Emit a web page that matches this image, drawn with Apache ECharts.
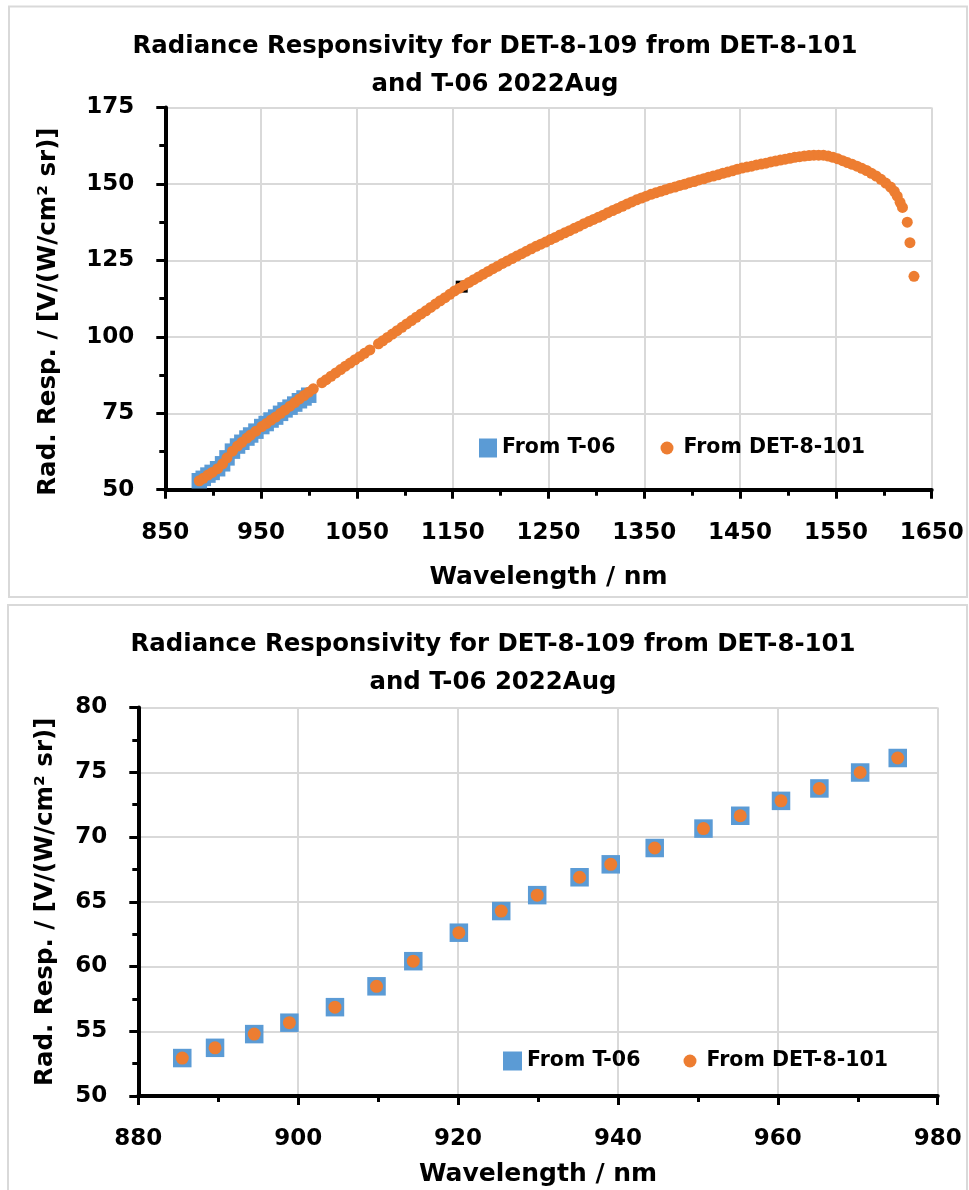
<!DOCTYPE html>
<html>
<head>
<meta charset="utf-8">
<script src="https://cdn.jsdelivr.net/npm/echarts@6/dist/echarts.min.js"></script>
<style>
html,body{margin:0;padding:0;background:#ffffff;}
#chart{width:969px;height:1190px;}
</style>
</head>
<body>
<div id="chart"></div>
<script>
// ---------- text ----------
const titleLine1 = 'Radiance Responsivity for DET-8-109 from DET-8-101';
const titleLine2 = 'and T-06 2022Aug';
const xAxisName = 'Wavelength / nm';
const yAxisName = 'Rad. Resp. / [V/(W/cm\u00B2 sr)]';
const seriesNames = ['From T-06', 'From DET-8-101'];

// ---------- axis ranges [min, max, interval] ----------
const topXRange = [850, 1650, 100];
const topYRange = [50, 175, 25];
const zoomXRange = [880, 980, 20];
const zoomYRange = [50, 80, 5];

// ---------- data ----------
const t06Wavelength = [885.5, 889.6, 894.5, 898.9, 904.6, 909.8, 914.4, 920.1, 925.4, 929.9,
  935.2, 939.1, 944.6, 950.7, 955.3, 960.4, 965.2, 970.3, 975.0,
  980.2, 985.1, 990.0, 994.8, 999.7];
const t06Resp = [52.93, 53.72, 54.78, 55.66, 56.86, 58.47, 60.41, 62.61, 64.28, 65.51,
  66.89, 67.89, 69.15, 70.65, 71.64, 72.79, 73.75, 74.98, 76.10,
  77.0, 78.0, 79.1, 80.0, 80.9];

const detWavelength = [885.5, 889.6, 894.5, 898.9, 904.6, 909.8, 914.4, 920.1, 925.4, 929.9,
  935.2, 939.1, 944.6, 950.7, 955.3, 960.4, 965.2, 970.3, 975.0,
  980.2, 985.1, 990.0, 994.8, 999.7,
  1004.5, 1013.5,
  1018, 1023, 1028, 1033, 1038, 1043, 1048, 1053, 1058,
  1063.5, 1072.5,
  1077, 1082, 1087, 1092, 1097, 1102, 1107, 1112, 1117, 1122, 1127, 1132, 1137, 1142, 1147,
  1152, 1157, 1162, 1167, 1172, 1177, 1182, 1187, 1192, 1197,
  1202, 1207, 1212, 1217, 1222, 1227, 1232, 1237, 1242, 1247,
  1252, 1257, 1262, 1267, 1272, 1277, 1282, 1287, 1292, 1297,
  1302, 1307, 1312, 1317, 1322, 1327, 1332, 1337, 1342, 1347,
  1352, 1357, 1362, 1367, 1372, 1377, 1382, 1387, 1392, 1397,
  1402, 1407, 1412, 1417, 1422, 1427, 1432, 1437, 1442, 1447,
  1452, 1457, 1462, 1467, 1472, 1477, 1482, 1487, 1492, 1497,
  1502, 1507, 1512, 1517, 1522, 1527, 1532, 1537, 1542, 1547,
  1552, 1557, 1562, 1567, 1572, 1577, 1582, 1587, 1592, 1597,
  1602, 1607,
  1611, 1614, 1617, 1619.5, 1624.5, 1627.3, 1631.5];
const detResp = [52.93, 53.72, 54.78, 55.66, 56.86, 58.47, 60.41, 62.61, 64.28, 65.51,
  66.89, 67.89, 69.15, 70.65, 71.64, 72.79, 73.75, 74.98, 76.10,
  77.3, 78.5, 79.7, 80.8, 81.9,
  83.0, 85.0,
  86.0, 87.1, 88.2, 89.3, 90.4, 91.4, 92.5, 93.5, 94.6,
  95.7, 97.7,
  98.7, 99.8, 100.9, 102.0, 103.1, 104.2, 105.3, 106.4, 107.5, 108.5, 109.6, 110.7, 111.8, 112.8, 113.9,
  115.0, 115.9, 116.9, 117.8, 118.7, 119.6, 120.5, 121.4, 122.3, 123.1,
  124.0, 124.8, 125.6, 126.4, 127.2, 128.0, 128.8, 129.6, 130.3, 131.0,
  131.8, 132.5, 133.3, 134.0, 134.7, 135.5, 136.2, 137.0, 137.7, 138.4,
  139.1, 139.8, 140.6, 141.3, 142.0, 142.7, 143.4, 144.1, 144.8, 145.4,
  146.0, 146.6, 147.1, 147.6, 148.1, 148.6, 149.0, 149.5, 149.9, 150.4,
  150.8, 151.3, 151.7, 152.2, 152.6, 153.0, 153.5, 153.9, 154.3, 154.8,
  155.2, 155.5, 155.8, 156.2, 156.5, 156.8, 157.2, 157.5, 157.8, 158.1,
  158.4, 158.7, 158.9, 159.1, 159.3, 159.4, 159.4, 159.4, 159.1, 158.7,
  158.2, 157.6, 157.0, 156.4, 155.8, 155.1, 154.4, 153.5, 152.6, 151.5,
  150.3, 149.0,
  147.6, 146.0, 144.0, 142.3, 137.5, 130.8, 119.8];

// stray dark marker visible behind the orange curve
const markWavelength = [1159.4];
const markResp = [116.4];

// ---------- build ----------
const FONT = 'DejaVu Sans';
const BLUE = '#5b9bd5';
const ORANGE = '#ed7d31';
const zip = (xs, ys) => xs.map((x, i) => [x, ys[i]]);
const plain = v => String(v);

function xAxisCfg(gridIndex, r, nameGap) {
  return {
    type: 'value', gridIndex: gridIndex, min: r[0], max: r[1], interval: r[2],
    name: xAxisName, nameLocation: 'middle', nameGap: nameGap,
    nameTextStyle: {fontFamily: FONT, fontSize: 25, fontWeight: 'bold', color: '#000', lineHeight: 25},
    axisLine: {show: true, onZero: false, lineStyle: {color: '#000', width: 4}},
    axisTick: {show: true, inside: false, length: 9, lineStyle: {color: '#000', width: 3}},
    minorTick: {show: true, splitNumber: 2, length: 6, lineStyle: {color: '#000', width: 3}},
    axisLabel: {show: true, margin: 32, fontFamily: FONT, fontSize: 23, fontWeight: 'bold', color: '#000',
      lineHeight: 23, showMinLabel: true, showMaxLabel: true, formatter: plain},
    splitLine: {show: true, lineStyle: {color: '#d9d9d9', width: 2}},
    minorSplitLine: {show: false}
  };
}
function yAxisCfg(gridIndex, r, nameGap, padding) {
  return {
    type: 'value', gridIndex: gridIndex, min: r[0], max: r[1], interval: r[2],
    name: yAxisName, nameLocation: 'middle', nameGap: nameGap,
    nameTextStyle: {fontFamily: FONT, fontSize: 24.5, fontWeight: 'bold', color: '#000', lineHeight: 25,
      padding: padding},
    axisLine: {show: true, onZero: false, lineStyle: {color: '#000', width: 4}},
    axisTick: {show: true, inside: false, length: 9, lineStyle: {color: '#000', width: 3}},
    minorTick: {show: true, splitNumber: 2, length: 6, lineStyle: {color: '#000', width: 3}},
    axisLabel: {show: true, margin: 31, fontFamily: FONT, fontSize: 23, fontWeight: 'bold', color: '#000',
      lineHeight: 23, showMinLabel: true, showMaxLabel: true, formatter: plain},
    splitLine: {show: true, lineStyle: {color: '#d9d9d9', width: 2}},
    minorSplitLine: {show: false}
  };
}
function legendCfg(name, icon, left, top, w, h) {
  return {
    data: [name], icon: icon, left: left, top: top, itemWidth: w, itemHeight: h,
    padding: 0, selectedMode: false,
    textStyle: {fontFamily: FONT, fontSize: 20.5, fontWeight: 'bold', color: '#000', lineHeight: 24}
  };
}
function titleText(text, x, y) {
  return {type: 'text', x: x, y: y, z: 10, silent: true,
    style: {text: text, fill: '#000', font: 'bold 24.4px "DejaVu Sans"',
      textAlign: 'center', textVerticalAlign: 'middle'}};
}

const chart = echarts.init(document.getElementById('chart'), null, {renderer: 'canvas'});
chart.setOption({
  animation: false,
  backgroundColor: '#ffffff',
  grid: [
    {left: 165.3, top: 107.5, width: 766.4, height: 382.2, outerBoundsMode: 'none', containLabel: false},
    {left: 138.3, top: 707.5, width: 799.4, height: 388.5, outerBoundsMode: 'none', containLabel: false}
  ],
  xAxis: [xAxisCfg(0, topXRange, 75), xAxisCfg(1, zoomXRange, 66)],
  yAxis: [yAxisCfg(0, topYRange, 104, [0, 26, 0, 0]), yAxisCfg(1, zoomYRange, 80, 0)],
  legend: [
    legendCfg(seriesNames[0], 'rect', 479, 436, 18, 19),
    legendCfg(seriesNames[1], 'circle', 660.5, 436, 23, 13),
    legendCfg(seriesNames[0], 'rect', 503, 1049, 19, 19),
    legendCfg(seriesNames[1], 'circle', 683.5, 1049, 23, 13)
  ],
  graphic: [
    {type: 'rect', z: -1, silent: true, shape: {x: 9, y: 6.5, width: 958, height: 590.5},
      style: {fill: 'none', stroke: '#d9d9d9', lineWidth: 2}},
    {type: 'rect', z: -1, silent: true, shape: {x: 8, y: 605, width: 959, height: 600},
      style: {fill: 'none', stroke: '#d9d9d9', lineWidth: 2}},
    titleText(titleLine1, 495, 46.5),
    titleText(titleLine2, 495, 84.5),
    titleText(titleLine1, 493, 644.5),
    titleText(titleLine2, 493, 683)
  ],
  series: [
    {name: 'mark', type: 'scatter', xAxisIndex: 0, yAxisIndex: 0, silent: true, z: 1,
      symbol: 'rect', symbolSize: 12, itemStyle: {color: '#000', opacity: 1},
      data: zip(markWavelength, markResp)},
    {name: seriesNames[0], type: 'scatter', xAxisIndex: 0, yAxisIndex: 0, z: 2,
      symbol: 'rect', symbolSize: 15.5, itemStyle: {color: BLUE, opacity: 1},
      data: zip(t06Wavelength, t06Resp)},
    {name: seriesNames[1], type: 'scatter', xAxisIndex: 0, yAxisIndex: 0, z: 3,
      symbol: 'circle', symbolSize: 11, itemStyle: {color: ORANGE, opacity: 1},
      data: zip(detWavelength, detResp)},
    {name: seriesNames[0], type: 'scatter', xAxisIndex: 1, yAxisIndex: 1, z: 2,
      symbol: 'rect', symbolSize: 18.5, itemStyle: {color: BLUE, opacity: 1},
      data: zip(t06Wavelength, t06Resp)},
    {name: seriesNames[1], type: 'scatter', xAxisIndex: 1, yAxisIndex: 1, z: 3,
      symbol: 'circle', symbolSize: 13, itemStyle: {color: ORANGE, opacity: 1},
      data: zip(detWavelength, detResp)}
  ]
});
</script>
</body>
</html>
